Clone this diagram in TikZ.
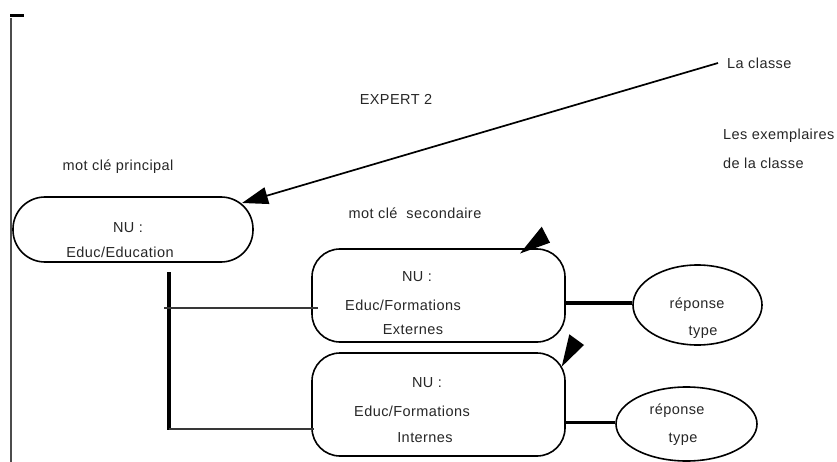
\documentclass[tikz,border=0pt]{standalone}
\usepackage{fontspec}
\setmainfont{Liberation Sans}[LetterSpace=3]
\usetikzlibrary{arrows.meta,shapes.geometric}
\begin{document}
\begin{tikzpicture}[x=1pt,y=-1pt,
  lbl/.style={inner sep=0pt,font=\fontsize{14.5}{16}\selectfont,text=black!85},
  boxa/.style={draw,line width=1.6pt,rectangle,inner sep=0pt},
  ell/.style={draw,line width=1.6pt,ellipse,inner sep=0pt},
  headfill/.style={fill=black,draw=none}]
\useasboundingbox (0,0) rectangle (837,462);
% left margin marks
\coordinate (barL) at (10,15.5);
\coordinate (barR) at (24,15.5);
\draw[line width=2.2pt] (barL) -- (barR);
\coordinate (vtop) at (11,18);
\coordinate (vbot) at (11,462);
\draw[line width=1.1pt,black!70] (vtop) -- (vbot);
% texts
\node[lbl] (expert) at (396,99) {EXPERT 2};
\node[lbl,anchor=west] (classe) at (727,63) {La classe};
\node[lbl,anchor=west] (exe1) at (723,136) {Les exemplaires};
\node[lbl,anchor=west] (exe2) at (723,163) {de la classe};
\node[lbl] (mcp) at (118,167) {mot clé principal};
\node[lbl] (mcs) at (415,213) {mot clé\ \ secondaire};
% boxes
\node[boxa,minimum width=240pt,minimum height=65pt,rounded corners=32pt] (b1) at (133,229.5) {};
\node[lbl] (b1t1) at (128,228) {NU :};
\node[lbl] (b1t2) at (120,252) {Educ/Education};
\node[boxa,minimum width=253pt,minimum height=93pt,rounded corners=28pt] (b2) at (438.5,295.5) {};
\node[lbl] (b2t1) at (417,277) {NU :};
\node[lbl] (b2t2) at (403,305) {Educ/Formations};
\node[lbl] (b2t3) at (413,330) {Externes};
\node[boxa,minimum width=253pt,minimum height=103pt,rounded corners=28pt] (b3) at (438.5,404.5) {};
\node[lbl] (b3t1) at (427,383) {NU :};
\node[lbl] (b3t2) at (412,411) {Educ/Formations};
\node[lbl] (b3t3) at (425,438) {Internes};
% ellipses
\node[ell,minimum width=129pt,minimum height=80pt] (e1) at (697.5,305) {};
\node[lbl] (e1t1) at (697,305) {réponse};
\node[lbl] (e1t2) at (703,332) {type};
\node[ell,minimum width=141pt,minimum height=74pt] (e2) at (686.5,424) {};
\node[lbl] (e2t1) at (677,411) {réponse};
\node[lbl] (e2t2) at (683,439) {type};
% arrow from La classe
\coordinate (cl) at (718,63);
\coordinate (tip1) at (242,203);
\draw[line width=1.7pt,-{Triangle[length=26pt,width=17pt]}] (cl) -- (tip1);
% floating arrowheads
\fill[headfill] (520,253.5) -- (541.7,226.7) -- (550,242.7) -- cycle;
\fill[headfill] (561.7,366.7) -- (569.3,334.3) -- (584,345) -- cycle;
% tree connectors
\coordinate (vt) at (169,272);
\coordinate (vb) at (169,430);
\draw[line width=3.2pt] (vt) -- (vb);
\coordinate (h1a) at (164,308);
\coordinate (h1b) at (318,308);
\draw[line width=2.8pt,black!78] (h1a) -- (h1b);
\coordinate (h2b) at (314,429);
\draw[line width=2.8pt,black!78] (169,429) -- (h2b);
% right connectors
\draw[line width=4.5pt] (b2.east |- 0,303) -- (e1.west |- 0,303);
\draw[line width=2.3pt] (b3.east |- 0,422.5) -- (e2.west |- 0,422.5);
\end{tikzpicture}
\end{document}
